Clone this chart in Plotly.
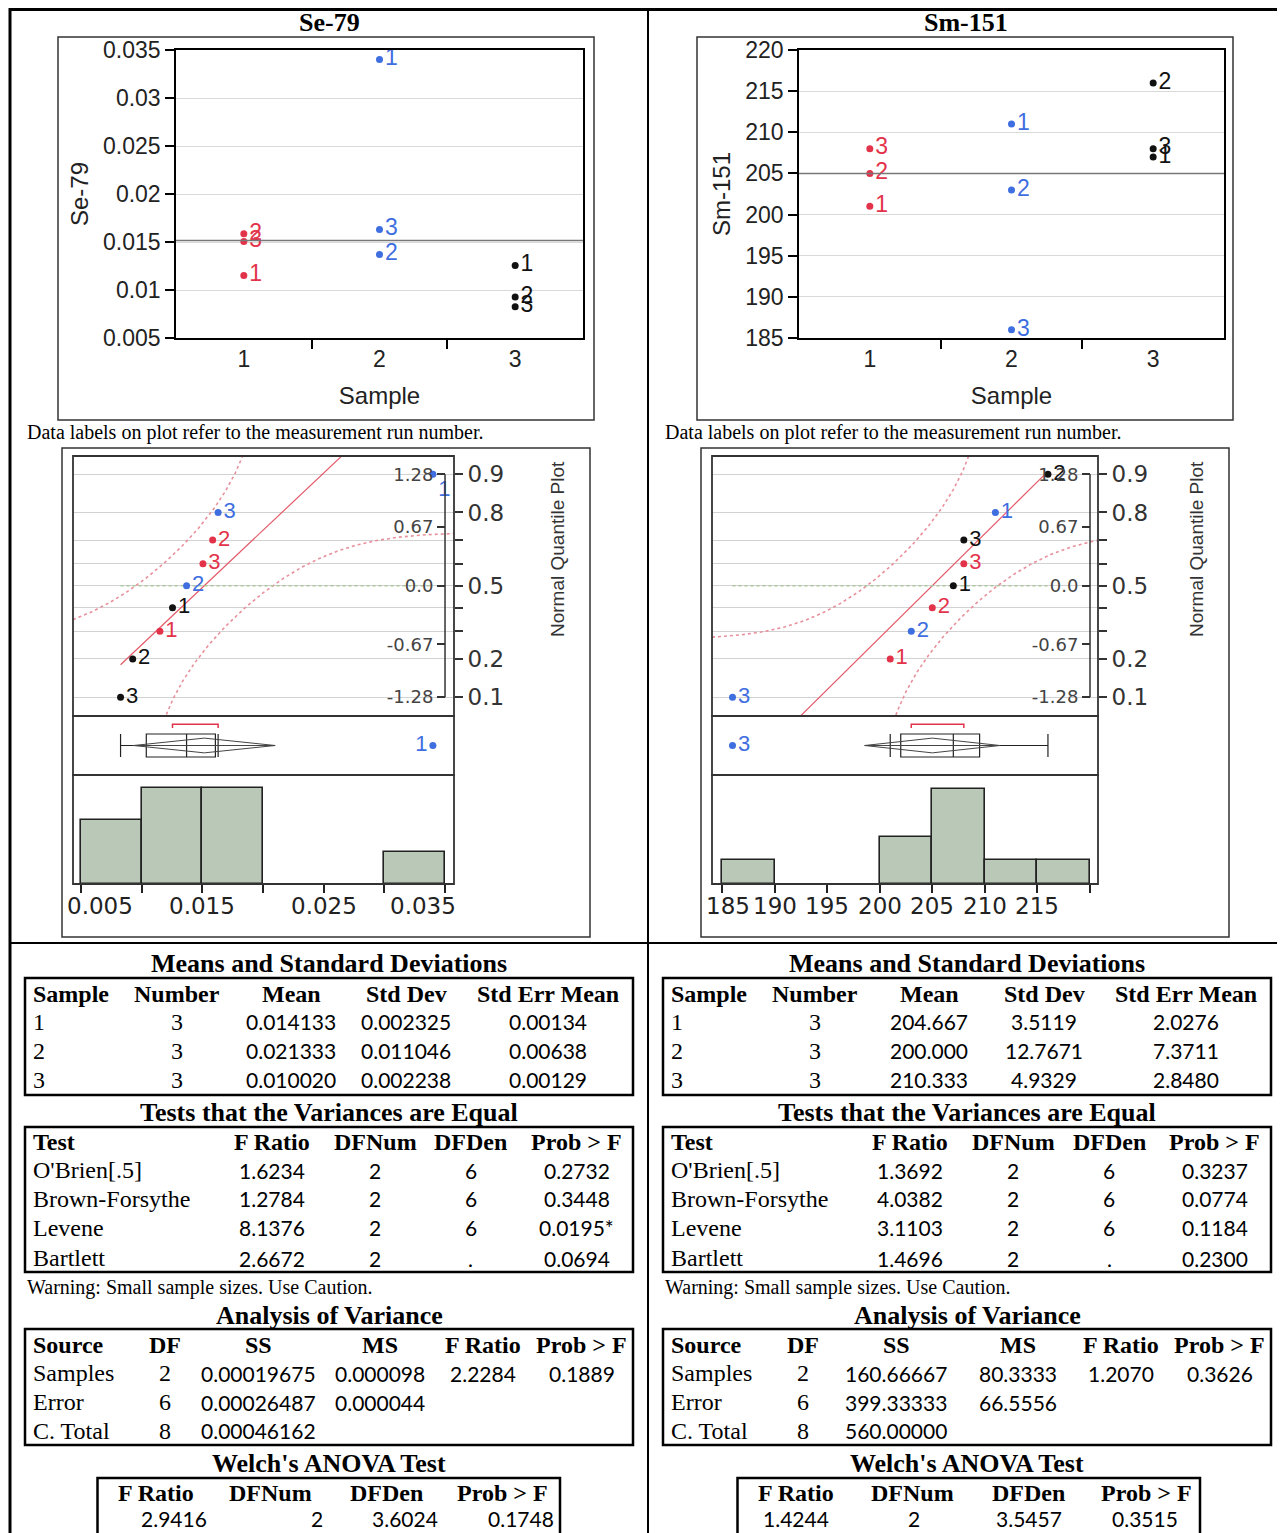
import numpy as np
import plotly.graph_objects as go
from statistics import NormalDist

# The page body adds an 8 px margin, so the figure is sized to fit the window
OFF = 8
W, H = 1285 - OFF, 1533 - OFF


def px(x):
    return (x - OFF) / W


def py(y):
    return 1 - (y - OFF) / H


# ---------------- data ----------------
run_numbers = [1, 2, 3, 1, 2, 3, 1, 2, 3]
sample_ids = [1, 1, 1, 2, 2, 2, 3, 3, 3]
se79_values = [0.0115, 0.01585, 0.01505, 0.0340, 0.0137, 0.0163, 0.01254, 0.00926, 0.00826]
sm151_values = [201, 205, 208, 211, 203, 186, 207, 216, 208]

se79_yticks = [0.005, 0.01, 0.015, 0.02, 0.025, 0.03, 0.035]
se79_yticklabels = ["0.005", "0.01", "0.015", "0.02", "0.025", "0.03", "0.035"]
sm151_yticks = [185, 190, 195, 200, 205, 210, 215, 220]
sm151_yticklabels = ["185", "190", "195", "200", "205", "210", "215", "220"]

se79_hist_edges = [0.005, 0.01, 0.015, 0.02, 0.025, 0.03, 0.035]
se79_hist_labels = ["0.005", "", "0.015", "", "0.025", "", "0.035"]
sm151_hist_edges = [185, 190, 195, 200, 205, 210, 215, 220]
sm151_hist_labels = ["185", "190", "195", "200", "205", "210", "215", ""]

prob_ticks = [0.1, 0.2, 0.3, 0.4, 0.5, 0.6, 0.7, 0.8, 0.9]
prob_labels = ["0.1", "0.2", "", "", "0.5", "", "", "0.8", "0.9"]
quant_probs = [0.1, 0.25, 0.5, 0.75, 0.9]
quant_labels = ["-1.28", "-0.67", "0.0", "0.67", "1.28"]

means_header = ["Sample", "Number", "Mean", "Std Dev", "Std Err Mean"]
se79_means_rows = [["1", "3", "0.014133", "0.002325", "0.00134"],
                   ["2", "3", "0.021333", "0.011046", "0.00638"],
                   ["3", "3", "0.010020", "0.002238", "0.00129"]]
sm151_means_rows = [["1", "3", "204.667", "3.5119", "2.0276"],
                    ["2", "3", "200.000", "12.7671", "7.3711"],
                    ["3", "3", "210.333", "4.9329", "2.8480"]]

var_header = ["Test", "F Ratio", "DFNum", "DFDen", "Prob > F"]
se79_var_rows = [["O'Brien[.5]", "1.6234", "2", "6", "0.2732"],
                 ["Brown-Forsythe", "1.2784", "2", "6", "0.3448"],
                 ["Levene", "8.1376", "2", "6", "0.0195*"],
                 ["Bartlett", "2.6672", "2", ".", "0.0694"]]
sm151_var_rows = [["O'Brien[.5]", "1.3692", "2", "6", "0.3237"],
                  ["Brown-Forsythe", "4.0382", "2", "6", "0.0774"],
                  ["Levene", "3.1103", "2", "6", "0.1184"],
                  ["Bartlett", "1.4696", "2", ".", "0.2300"]]

anova_header = ["Source", "DF", "SS", "MS", "F Ratio", "Prob > F"]
se79_anova_rows = [["Samples", "2", "0.00019675", "0.000098", "2.2284", "0.1889"],
                   ["Error", "6", "0.00026487", "0.000044", "", ""],
                   ["C. Total", "8", "0.00046162", "", "", ""]]
sm151_anova_rows = [["Samples", "2", "160.66667", "80.3333", "1.2070", "0.3626"],
                    ["Error", "6", "399.33333", "66.5556", "", ""],
                    ["C. Total", "8", "560.00000", "", "", ""]]

welch_header = ["F Ratio", "DFNum", "DFDen", "Prob > F"]
se79_welch_row = ["2.9416", "2", "3.6024", "0.1748"]
sm151_welch_row = ["1.4244", "2", "3.5457", "0.3515"]

caption_text = "Data labels on plot refer to the measurement run number."
warning_text = "Warning: Small sample sizes. Use Caution."

# ---------------- style ----------------
SERIF = "Liberation Serif"
SANS = "Liberation Sans"
WIDE = "DejaVu Sans"
NUM = "Lato"
RED = "#E2334B"
BLUE = "#3E6EE0"
BLACK = "#111111"
sample_colors = {1: RED, 2: BLUE, 3: BLACK}
HIST_FILL = "#B9C8B7"

ND = NormalDist()
LILLIEFORS_D = 0.271   # 95% band half-width for n = 9
T_975_DF8 = 2.306      # t quantile for the means diamond

fig = go.Figure()
shapes = []
annotations = []
layout_axes = {}


def aid(n):
    return "" if n == 1 else str(n)


def put_text(x, y, text, family, size, anchor="center", bold=False, color="black", angle=0):
    annotations.append(dict(x=px(x), y=py(y), xref="paper", yref="paper",
                            text=("<b>%s</b>" % text) if bold else text, showarrow=False,
                            xanchor=anchor, yanchor="middle", textangle=angle,
                            font=dict(family=family, size=size, color=color)))


def paper_rect(x0, y0, x1, y1, width=2.5, color="black"):
    shapes.append(dict(type="rect", xref="paper", yref="paper", x0=px(x0), x1=px(x1),
                       y0=py(y1), y1=py(y0), line=dict(color=color, width=width), layer="above"))


def paper_line(x0, y0, x1, y1, width=2, color="black"):
    shapes.append(dict(type="line", xref="paper", yref="paper", x0=px(x0), x1=px(x1),
                       y0=py(y0), y1=py(y1), line=dict(color=color, width=width), layer="above"))


columns = [
    dict(name="Se-79", values=se79_values, yticks=se79_yticks, ytl=se79_yticklabels,
         hist_edges=se79_hist_edges, hist_labels=se79_hist_labels,
         hist_shift=[19, 0, 0, 0, 0, 0, -22], hist_ymax=3.41, qrange=[0.00434, 0.03574],
         ids=dict(sx=1, sy=1, qx=2, qy=2, by=3, hy=4, pr=5, iq=6),
         title_x=329, scat_frame=(58, 37, 594, 420), scat_x=(176, 583),
         q_frame=(62, 448, 590, 937), q_x=(73, 454), cap_x=25, nqp_x=557,
         means=se79_means_rows, var=se79_var_rows, anova=se79_anova_rows, welch=se79_welch_row,
         dx=0, welch_box=(97.5, 560), welch_hx=[155.6, 270.5, 386.3, 502],
         welch_vx=[174.3, 317.4, 404.6, 520.7]),
    dict(name="Sm-151", values=sm151_values, yticks=sm151_yticks, ytl=sm151_yticklabels,
         hist_edges=sm151_hist_edges, hist_labels=sm151_hist_labels,
         hist_shift=[6, 0, 0, 0, 0, 0, 0, 0], hist_ymax=4.59, qrange=[184.05, 220.76],
         ids=dict(sx=3, sy=7, qx=4, qy=8, by=9, hy=10, pr=11, iq=12),
         title_x=966, scat_frame=(697, 37, 1233, 420), scat_x=(799, 1224),
         q_frame=(701, 448, 1229, 937), q_x=(712, 1098), cap_x=663, nqp_x=1196,
         means=sm151_means_rows, var=sm151_var_rows, anova=sm151_anova_rows, welch=sm151_welch_row,
         dx=638, welch_box=(737.5, 1200), welch_hx=[796, 912, 1028, 1146],
         welch_vx=[796, 913.6, 1029, 1145]),
]

SCAT_Y = (50, 338)
Q_Y = (456, 716)
B_Y = (716, 775)
H_Y = (775, 884)
Z_RANGE = [-1.498, 1.491]

for col in columns:
    ids = col["ids"]
    vals = np.array(col["values"], dtype=float)
    n = len(vals)
    sx, sy = "x" + aid(ids["sx"]), "y" + aid(ids["sy"])
    qx = "x" + aid(ids["qx"])
    qy, by, hy = "y" + aid(ids["qy"]), "y" + aid(ids["by"]), "y" + aid(ids["hy"])
    pr, iq = "y" + aid(ids["pr"]), "y" + aid(ids["iq"])

    # ---------- scatter: value by sample ----------
    for s in [1, 2, 3]:
        idx = [i for i in range(n) if sample_ids[i] == s]
        fig.add_trace(go.Scatter(
            x=[sample_ids[i] for i in idx], y=[vals[i] for i in idx],
            text=[str(run_numbers[i]) for i in idx], mode="markers+text",
            textposition="middle right", cliponaxis=False,
            marker=dict(size=7, color=sample_colors[s]),
            textfont=dict(family=SANS, size=23, color=sample_colors[s]),
            xaxis=sx, yaxis=sy, hoverinfo="skip"))
    grand_mean = float(vals.mean())
    fig.add_trace(go.Scatter(x=[0.5, 3.5], y=[grand_mean, grand_mean], mode="lines",
                             line=dict(color="#777777", width=1.6), xaxis=sx, yaxis=sy,
                             hoverinfo="skip"))
    yr = [col["yticks"][0], col["yticks"][-1]]
    layout_axes["xaxis" + aid(ids["sx"])] = dict(
        domain=[px(col["scat_x"][0]), px(col["scat_x"][1])], range=[0.5, 3.5], anchor=sy,
        tickmode="array", tickvals=[1, 2, 3], ticktext=["1", "2", "3"], ticks="", ticklen=0,
        minor=dict(tickmode="array", tickvals=[1.5, 2.5], ticks="outside", ticklen=9,
                   tickwidth=1.5, tickcolor="black", showgrid=False),
        showline=True, mirror=True, linecolor="black", linewidth=1.5, showgrid=False,
        zeroline=False, tickfont=dict(family=SANS, size=23, color="#222"), automargin=False,
        title=dict(text="Sample", font=dict(family=SANS, size=24, color="#222"), standoff=16))
    layout_axes["yaxis" + aid(ids["sy"])] = dict(
        domain=[py(SCAT_Y[1]), py(SCAT_Y[0])], range=yr, anchor=sx,
        tickmode="array", tickvals=col["yticks"], ticktext=col["ytl"], ticks="outside",
        ticklen=9, tickwidth=1.5, tickcolor="black", showgrid=True, gridcolor="#d9d9d9",
        showline=True, mirror=True, linecolor="black", linewidth=1.5, zeroline=False,
        tickfont=dict(family=SANS, size=23, color="#222"), automargin=False,
        title=dict(text=col["name"], font=dict(family=SANS, size=24, color="#222"), standoff=8))
    paper_rect(*col["scat_frame"], width=1.5, color="#333")

    # ---------- normal quantile plot ----------
    order = np.argsort(vals, kind="stable")
    zq = [ND.inv_cdf((r + 1) / (n + 1)) for r in range(n)]
    sd_all = float(vals.std(ddof=1))
    r0, r1 = col["qrange"]
    qdom = [px(col["q_x"][0]), px(col["q_x"][1])]
    tmax = col["hist_edges"][-1]
    inner_pos = qdom[0] + (tmax - r0) / (r1 - r0) * (qdom[1] - qdom[0])

    xs = np.linspace(r0, r1, 400)
    up, lo = [], []
    for xv in xs:
        p = ND.cdf((xv - grand_mean) / sd_all)
        pu, pl = p + LILLIEFORS_D, p - LILLIEFORS_D
        up.append(ND.inv_cdf(pu) if pu < 0.99999 else None)
        lo.append(ND.inv_cdf(pl) if pl > 0.00001 else None)
    for band in (up, lo):
        fig.add_trace(go.Scatter(x=xs, y=band, mode="lines", xaxis=qx, yaxis=qy,
                                 line=dict(color="#E8909B", width=1.6, dash="dot"),
                                 hoverinfo="skip"))
    vmin, vmax = float(vals.min()), float(vals.max())
    fig.add_trace(go.Scatter(x=[vmin, vmax], y=[(vmin - grand_mean) / sd_all, (vmax - grand_mean) / sd_all],
                             mode="lines", xaxis=qx, yaxis=qy,
                             line=dict(color="#E45A6A", width=1.2), hoverinfo="skip"))
    fig.add_trace(go.Scatter(x=[vmin, vmax], y=[0, 0], mode="lines", xaxis=qx, yaxis=qy,
                             line=dict(color="#A9C79B", width=1.6, dash="dot"), hoverinfo="skip"))
    qpts_x = [vals[i] for i in order]
    inner_px = col["q_x"][0] + (tmax - r0) / (r1 - r0) * (col["q_x"][1] - col["q_x"][0])
    tpos = []
    for v in qpts_x:
        vpx = col["q_x"][0] + (v - r0) / (r1 - r0) * (col["q_x"][1] - col["q_x"][0])
        tpos.append("bottom right" if vpx + 22 > inner_px else "middle right")
    fig.add_trace(go.Scatter(
        x=qpts_x, y=zq, mode="markers+text", text=[str(run_numbers[i]) for i in order],
        textposition=tpos, xaxis=qx, yaxis=qy,
        marker=dict(size=7, color=[sample_colors[sample_ids[i]] for i in order]),
        textfont=dict(family=SANS, size=22, color=[sample_colors[sample_ids[i]] for i in order]),
        hoverinfo="skip"))
    # dummies so the overlaying axes are drawn
    fig.add_trace(go.Scatter(x=[grand_mean], y=[0], mode="markers", marker=dict(opacity=0),
                             xaxis=qx, yaxis=pr, hoverinfo="skip"))
    fig.add_trace(go.Scatter(x=[grand_mean], y=[0], mode="markers", marker=dict(opacity=0),
                             xaxis=qx, yaxis=iq, hoverinfo="skip"))
    zq_ticks = [ND.inv_cdf(p) for p in quant_probs]
    shapes.append(dict(type="line", xref=qx, yref=qy, x0=tmax, x1=tmax, y0=zq_ticks[0],
                       y1=zq_ticks[-1], line=dict(color="#333", width=1.5)))

    # ---------- outlier box plot ----------
    fig.add_trace(go.Box(x=vals, y=[0] * n, orientation="h", width=0.78, boxpoints="outliers",
                         quartilemethod="exclusive", whiskerwidth=1, fillcolor="rgba(0,0,0,0)",
                         line=dict(color="#222", width=1.2),
                         marker=dict(color="rgba(0,0,0,0)", size=1),
                         xaxis=qx, yaxis=by, hoverinfo="skip"))
    ci = T_975_DF8 * sd_all / np.sqrt(n)
    dlo, dhi = grand_mean - ci, grand_mean + ci
    dh = 0.25
    fig.add_trace(go.Scatter(x=[dlo, grand_mean, dhi, grand_mean, dlo, None, dlo, dhi],
                             y=[0, dh, 0, -dh, 0, None, 0, 0], mode="lines", xaxis=qx, yaxis=by,
                             line=dict(color="#444", width=1), hoverinfo="skip"))
    srt = np.sort(vals)
    k = n // 2 + 1
    spans = [srt[i + k - 1] - srt[i] for i in range(n - k + 1)]
    j = int(np.argmin(spans))
    a, b = srt[j], srt[j + k - 1]
    fig.add_trace(go.Scatter(x=[a, a, b, b], y=[0.59, 0.72, 0.72, 0.59], mode="lines",
                             xaxis=qx, yaxis=by, line=dict(color="#E2334B", width=1.5),
                             hoverinfo="skip"))
    q1, q3 = np.percentile(vals, [25, 75], method="weibull")
    iqr = q3 - q1
    med = float(np.median(vals))
    out_idx = [i for i in range(n) if vals[i] > q3 + 1.5 * iqr or vals[i] < q1 - 1.5 * iqr]
    fig.add_trace(go.Scatter(
        x=[vals[i] for i in out_idx], y=[0] * len(out_idx), mode="markers+text",
        text=[str(run_numbers[i]) for i in out_idx],
        textposition=["middle left" if vals[i] > med else "middle right" for i in out_idx],
        marker=dict(size=7, color=[sample_colors[sample_ids[i]] for i in out_idx]),
        textfont=dict(family=SANS, size=22, color=[sample_colors[sample_ids[i]] for i in out_idx]),
        xaxis=qx, yaxis=by, hoverinfo="skip"))

    # ---------- histogram ----------
    edges = col["hist_edges"]
    fig.add_trace(go.Histogram(x=vals, xbins=dict(start=edges[0], end=edges[-1],
                                                  size=edges[1] - edges[0]),
                               marker=dict(color=HIST_FILL, line=dict(color="#222", width=1.6)),
                               xaxis=qx, yaxis=hy, hoverinfo="skip"))
    for e, lab, sh in zip(edges, col["hist_labels"], col["hist_shift"]):
        if lab:
            annotations.append(dict(x=e, y=py(906), xref=qx, yref="paper", text=lab,
                                    showarrow=False, xanchor="center", yanchor="middle",
                                    xshift=sh, font=dict(family=WIDE, size=23, color="#222")))

    layout_axes["xaxis" + aid(ids["qx"])] = dict(
        domain=qdom, range=[r0, r1], anchor=hy, tickmode="array", tickvals=edges,
        showticklabels=False, ticks="outside", ticklen=8, tickwidth=1.5, tickcolor="#222",
        showgrid=False, zeroline=False, showline=False, automargin=False)
    layout_axes["yaxis" + aid(ids["qy"])] = dict(
        domain=[py(Q_Y[1]), py(Q_Y[0])], range=Z_RANGE, anchor=qx, tickmode="array",
        tickvals=[ND.inv_cdf(p) for p in prob_ticks], showticklabels=False, ticks="",
        showgrid=True, gridcolor="#d2d2d2", gridwidth=1, zeroline=False, showline=False,
        automargin=False)
    layout_axes["yaxis" + aid(ids["pr"])] = dict(
        overlaying=qy, side="right", anchor=qx, range=Z_RANGE, tickmode="array",
        tickvals=[ND.inv_cdf(p) for p in prob_ticks], ticktext=prob_labels, ticks="outside",
        ticklen=8, tickwidth=1.5, tickcolor="#333", showgrid=False, zeroline=False,
        showline=False, tickfont=dict(family=WIDE, size=23, color="#333"), automargin=False)
    layout_axes["yaxis" + aid(ids["iq"])] = dict(
        overlaying=qy, side="left", anchor="free", position=inner_pos, range=Z_RANGE,
        tickmode="array", tickvals=zq_ticks, ticktext=quant_labels, ticks="outside",
        ticklen=8, tickwidth=1.5, tickcolor="#333", showgrid=False, zeroline=False,
        showline=False, tickfont=dict(family=WIDE, size=18, color="#444"), automargin=False)
    layout_axes["yaxis" + aid(ids["by"])] = dict(
        domain=[py(B_Y[1]), py(B_Y[0])], range=[-1, 1], anchor=qx, showticklabels=False,
        ticks="", showgrid=False, zeroline=False, showline=False, automargin=False)
    layout_axes["yaxis" + aid(ids["hy"])] = dict(
        domain=[py(H_Y[1]), py(H_Y[0])], range=[0, col["hist_ymax"]], anchor=qx,
        showticklabels=False, ticks="", showgrid=False, zeroline=False, showline=False,
        automargin=False)
    for yy in (qy, by, hy):
        shapes.append(dict(type="rect", xref=qx + " domain", yref=yy + " domain", x0=0, x1=1,
                           y0=0, y1=1, line=dict(color="#333", width=1.8), layer="above"))
    paper_rect(*col["q_frame"], width=1.5, color="#333")
    put_text(col["nqp_x"], 549, "Normal Quantile Plot", SANS, 19, color="#333", angle=-90)

    # ---------- headings / captions ----------
    put_text(col["title_x"], 22, col["name"], SERIF, 26, bold=True)
    put_text(col["cap_x"], 433, caption_text, SERIF, 20, anchor="left")

    # ---------- tables ----------
    dx = col["dx"]
    # Means and Standard Deviations
    put_text(329 + dx, 963, "Means and Standard Deviations", SERIF, 26, bold=True)
    paper_rect(25 + dx, 978, 633 + dx, 1095)
    mx = [31, 177, 291, 406, 548]
    mfont = [SERIF, SERIF, NUM, NUM, NUM]
    for c, h in enumerate(means_header):
        put_text(mx[c] + dx, 993.5, h, SERIF, 24, anchor="left" if c == 0 else "center", bold=True)
    for r, row in enumerate(col["means"]):
        for c, v in enumerate(row):
            put_text(mx[c] + dx, [1021.5, 1050.5, 1079.5][r], v, mfont[c],
                     24 if mfont[c] == SERIF else 21, anchor="left" if c == 0 else "center")
    # Tests that the Variances are Equal
    put_text(329 + dx, 1112, "Tests that the Variances are Equal", SERIF, 26, bold=True)
    paper_rect(25 + dx, 1127, 633 + dx, 1272)
    tx = [31, 271.6, 375.2, 471, 576.5]
    for c, h in enumerate(var_header):
        put_text(tx[c] + dx, 1142, h, SERIF, 24, anchor="left" if c == 0 else "center", bold=True)
    for r, row in enumerate(col["var"]):
        for c, v in enumerate(row):
            put_text(tx[c] + dx, [1170, 1198.5, 1227.5, 1258][r], v, SERIF if c == 0 else NUM,
                     24 if c == 0 else 21, anchor="left" if c == 0 else "center")
    put_text(25 + dx, 1287, warning_text, SERIF, 20, anchor="left")
    # Analysis of Variance
    put_text(329 + dx, 1315, "Analysis of Variance", SERIF, 26, bold=True)
    paper_rect(25 + dx, 1329, 633 + dx, 1445)
    ax_ = [31, 164.5, 258, 380.3, 483.4, 581.5]
    for c, h in enumerate(anova_header):
        put_text(ax_[c] + dx, 1345, h, SERIF, 24, anchor="left" if c == 0 else "center", bold=True)
    for r, row in enumerate(col["anova"]):
        for c, v in enumerate(row):
            if v:
                put_text(ax_[c] + dx, [1373, 1402, 1430.5][r], v, SERIF if c < 2 else NUM,
                         24 if c < 2 else 21, anchor="left" if c == 0 else "center")
    # Welch's ANOVA
    put_text(329 + dx, 1463.5, "Welch's ANOVA Test", SERIF, 26, bold=True)
    wb = col["welch_box"]
    paper_rect(wb[0], 1478, wb[1], 1548)
    for c, h in enumerate(welch_header):
        put_text(col["welch_hx"][c], 1493, h, SERIF, 24, bold=True)
    for c, v in enumerate(col["welch"]):
        put_text(col["welch_vx"][c], 1518.5, v, NUM, 21)

# page grid lines
paper_line(10, 9.5, 1285, 9.5, width=3)
paper_line(10, 8, 10, 1540, width=3)
paper_line(648, 8, 648, 1540, width=2)
paper_line(10, 943, 1285, 943, width=2)

fig.update_layout(
    width=W, height=H, autosize=False, margin=dict(l=0, r=0, t=0, b=0, pad=0),
    paper_bgcolor="white", plot_bgcolor="white", showlegend=False,
    boxmode="overlay", bargap=0, shapes=shapes, annotations=annotations, **layout_axes)

fig.write_html("out.html")
